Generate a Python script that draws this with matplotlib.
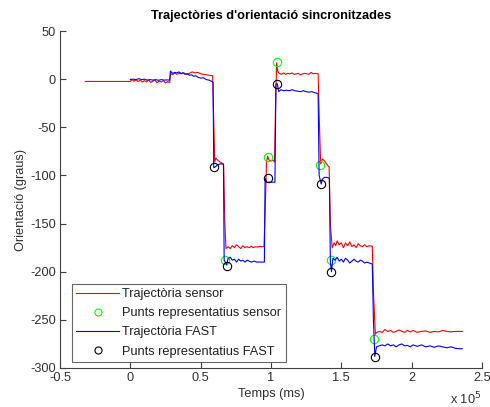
import matplotlib
matplotlib.use("Agg")
import matplotlib.pyplot as plt
from matplotlib.ticker import FixedLocator, FuncFormatter

plt.rcParams['font.family'] = ['Liberation Sans', 'DejaVu Sans']
plt.rcParams['axes.unicode_minus'] = False

# Sensor trajectory (time in ms, orientation in degrees)
t_sensor = [-32000, 0, 1000, 2500, 4000, 5500, 7000, 8500, 10000, 11500, 13000, 14500, 16000, 17500,
            19000, 20500, 22000, 23500, 25000, 26500, 28000,
            28600, 30000, 31500, 33000, 34500, 36000, 38000, 40000, 42000, 44000, 46000, 48000, 50000,
            52000, 54000, 56000, 58500,
            59200, 60000, 60800, 62000, 63500, 65000, 66300,
            67200, 68000, 69500, 71000, 72500, 74000, 75500, 77000, 78500, 80000, 81500, 83000, 84500,
            86000, 87500, 89000, 90500, 92000, 93500, 95000,
            95800, 96800, 97600, 98500, 100000, 101500, 102500,
            103200, 104000, 104800, 106000, 107500, 109000, 110500, 112000, 113500, 115000, 116500,
            118000, 119500, 121000, 122500, 124000, 125500, 127000, 128500, 130000, 131500, 133500,
            134300, 135300, 136500, 137500, 139000, 140500, 141300,
            142200, 143500, 145000, 146000, 147000, 148500, 150000, 151500, 153000, 154500, 156000,
            157500, 159000, 160500, 162000, 163500, 165000, 166500, 168000, 170000, 172000,
            172800, 174200, 175000, 177000, 179000, 181000, 183000, 185000, 187000, 189000, 191000,
            193000, 195000, 197000, 199000, 201000, 204000, 207000, 210000, 213000, 216000, 219000,
            222000, 225000, 228000, 231000, 234000, 236000]
v_sensor = [-2.4, -2.4, -0.5, -2, -0.8, -2.5, -1, -3, -1.5, -2.8, -1, -3.5, -2, -1,
            -3.8, -2, -3, -1.5, -4, -2.5, -3.5,
            6, 4.5, 6.5, 5, 6, 5.5, 6.5, 5, 6, 7.5, 6.5, 7, 5.5,
            5, 4.5, 4, 3.5,
            -40, -86, -82, -84, -86, -87, -89,
            -150, -176, -174, -176, -173, -175, -172, -174, -176, -173, -175, -174, -175,
            -173.5, -175, -174, -174.5, -173.5, -174, -174,
            -140, -86, -80, -84, -85, -84, -86,
            -30, 17, 8, 6, 5, 6.5, 5, 6, 5.5, 6.5, 5,
            5.5, 6, 4.5, 5.5, 6, 5.5, 5, 7, 5.5, 6, 5.5,
            -40, -88, -83, -84, -87, -90, -91,
            -150, -175, -170, -173, -168, -172, -170, -175, -170, -173, -169,
            -174, -172, -175, -171, -173, -174, -172, -174, -173, -173.5,
            -220, -265, -263, -262, -263, -260, -262, -261, -263, -262, -260.5,
            -262, -263, -261, -262.5, -261, -263, -262, -261.5, -263, -262, -262.5,
            -261, -262, -262.5, -262, -262, -262]

# FAST trajectory
t_fast = [0, 2000, 4000, 6000, 8000, 10000, 12000, 14000, 16000, 18000, 20000, 22000, 24000, 26000, 28000,
          28500, 30000, 31500, 33000, 34500, 36000, 37500, 39000, 40500, 42000, 43500, 45000, 46500,
          48000, 50000, 52000, 54000, 56000, 58000, 58800,
          59300, 60500, 62000, 64000, 66200,
          66700, 68500, 69500, 71000, 72500, 74000, 75500, 77000, 78500, 80000, 81500, 83000, 84500,
          86000, 88000, 90000, 92000, 94000, 95300,
          95800, 97000, 99000, 101000, 102800,
          103500, 104500, 105500, 107000, 109000, 111000, 113000, 115000, 117000, 119000, 121000,
          123000, 125000, 127000, 129000, 131000, 133500,
          134200, 135700, 136500, 138000, 140000, 141500,
          142200, 143000, 144000, 145500, 147000, 148500, 150000, 151500, 153000, 154500, 156000,
          157500, 159000, 160500, 162000, 163500, 165000, 166500, 168000, 170000, 172000,
          172800, 173800, 175000, 177000, 179000, 181000, 183000, 185000, 187000, 189000, 191000,
          193000, 195000, 197000, 199000, 201000, 204000, 207000, 210000, 213000, 216000, 219000,
          222000, 225000, 228000, 231000, 234000, 236000]
v_fast = [-0.3, 0, -0.5, 0.5, -0.5, 0, -1, -0.5, -1, -0.5, -1.2, -0.5, -1, -0.8, -1,
          8.5, 6, 7, 6.5, 7.5, 6, 6.5, 5, 5.5, 4, 4.5, 3, 3.5,
          2, 1, 1.5, -0.5, -1, -2.5, -3,
          -92, -91, -89, -88, -88,
          -188, -193, -186, -185, -188, -187, -190, -187, -189, -188, -190, -188, -189,
          -190, -189, -190, -190, -190, -190,
          -103, -107, -107, -107, -107,
          -5, -5, -13, -11, -12, -11.5, -12, -11, -12, -12.5, -13,
          -12, -13, -13.5, -13, -14, -15,
          -100, -109, -104, -102, -102, -103,
          -190, -200, -186, -188, -185, -189, -187, -190, -186, -188, -191,
          -189, -187, -189, -190, -188, -189, -191, -190, -191, -192,
          -250, -288, -278, -277, -276, -277, -275, -277, -276, -278, -276,
          -275, -277, -276.5, -278, -276, -277.5, -276, -278, -277, -278.5, -277,
          -278, -279, -278, -279.5, -280, -280]

# Representative points
t_rep_sensor = [67400, 97600, 104000, 135000, 142500, 173300]
v_rep_sensor = [-188, -81, 17.6, -89, -188, -270]
t_rep_fast = [59300, 68500, 97600, 104000, 135700, 143000, 173800]
v_rep_fast = [-91, -194, -103, -5, -109, -200.5, -288.5]

x_ticks = [-50000, 0, 50000, 100000, 150000, 200000, 250000]
x_tick_labels = ['-0.5', '0', '0.5', '1', '1.5', '2', '2.5']
y_ticks = [-300, -250, -200, -150, -100, -50, 0, 50]

FS = 9.2

fig = plt.figure(figsize=(4.9, 4.07), dpi=100)
ax = fig.add_axes([60 / 490, 39 / 407, 422 / 490, 337 / 407])

ax.plot(t_sensor, v_sensor, color='#ff0000', lw=0.8, label='Trajectòria sensor')
ax.plot(t_rep_sensor, v_rep_sensor, 'o', mfc='none', mec='#00ff00', ms=6, mew=0.8,
        label='Punts representatius sensor')
ax.plot(t_fast, v_fast, color='#0000ff', lw=0.8, label='Trajectòria FAST')
ax.plot(t_rep_fast, v_rep_fast, 'o', mfc='none', mec='#000000', ms=6, mew=0.8,
        label='Punts representatius FAST')

ax.set_xlim(-50000, 250000)
ax.set_ylim(-300, 50)
ax.xaxis.set_major_locator(FixedLocator(x_ticks))
ax.xaxis.set_major_formatter(FuncFormatter(lambda v, p: x_tick_labels[x_ticks.index(int(round(v)))]))
ax.set_yticks(y_ticks)

for side in ['top', 'right']:
    ax.spines[side].set_visible(False)
for side in ['left', 'bottom']:
    ax.spines[side].set_color('#404040')
    ax.spines[side].set_linewidth(0.8)
ax.tick_params(direction='in', length=4, width=0.8, color='#404040', labelcolor='#303030',
               labelsize=FS, pad=3)

ax.set_title("Trajectòries d'orientació sincronitzades", fontsize=FS, fontweight='bold', pad=9)
ax.set_xlabel('Temps (ms)', fontsize=FS, color='#303030', labelpad=3)
ax.set_ylabel('Orientació (graus)', fontsize=FS, color='#303030', labelpad=2)
fig.text(450 / 490, 1 - 399 / 407, r'x 10$^5$', fontsize=FS, color='#303030',
         ha='left', va='center')

leg = ax.legend(loc='lower left', bbox_to_anchor=(72 / 490, 45 / 407),
                bbox_transform=fig.transFigure, fontsize=FS, frameon=True, fancybox=False,
                borderpad=0.35, labelspacing=0.55, handlelength=3.3, handletextpad=0.3,
                borderaxespad=0, markerscale=0.85)
leg.get_frame().set_edgecolor('#404040')
leg.get_frame().set_linewidth(0.8)
for txt in leg.get_texts():
    txt.set_color('#202020')

fig.savefig('out.png', dpi=100)
